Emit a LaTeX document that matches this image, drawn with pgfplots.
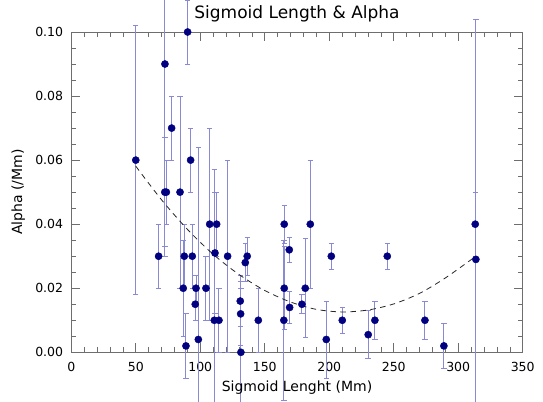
\documentclass[border=0pt]{standalone}
\usepackage{pgfplots}
\pgfplotsset{compat=1.18}
\usepackage{pgfplotstable}
\usepackage{fontspec}
\setmainfont{DejaVu Sans}
\definecolor{navy}{RGB}{0,0,128}
\definecolor{errc}{RGB}{138,138,212}
\definecolor{axc}{RGB}{110,110,110}
\pgfplotstableread{
x y e
50 0.060 0.042
67.7 0.030 0.010
72.6 0.090 0.060
72.5 0.050 0.017
73.7 0.050 0.010
77.8 0.070 0.010
84.3 0.050 0.030
86.8 0.020 0.015
87.6 0.030 0.010
88.9 0.002 0.010
90.2 0.100 0.010
92.5 0.060 0.010
93.8 0.030 0.010
96.1 0.015 0.005
96.7 0.020 0.004
98.5 0.004 0.060
104.4 0.020 0.010
107.3 0.040 0.030
110.9 0.010 0.047
111.4 0.031 0.019
112.7 0.040 0.010
114.5 0.010 0.010
121.2 0.030 0.030
131.0 0.016 0.008
131.3 0.012 0.010
131.5 0.000 0.020
134.9 0.028 0.006
136.4 0.030 0.006
145.0 0.010 0.010
164.8 0.010 0.025
165.1 0.020 0.013
165.1 0.040 0.006
169.0 0.032 0.004
169.3 0.014 0.005
178.8 0.015 0.003
181.4 0.020 0.0155
185.3 0.040 0.020
197.7 0.004 0.012
201.6 0.030 0.004
210.1 0.010 0.004
230.2 0.0055 0.0075
235.4 0.010 0.006
245.0 0.030 0.004
274.2 0.010 0.006
288.9 0.002 0.007
313.2 0.040 0.010
313.7 0.029 0.075
}\datatable
\pgfplotstableread{
x y
50 0.0581
70 0.0476
90 0.0384
110 0.0306
130 0.0243
150 0.0193
170 0.0157
190 0.0134
210 0.0126
230 0.0132
250 0.0151
270 0.0184
290 0.0232
313 0.0298
}\fittable
\begin{document}
\begin{tikzpicture}
\begin{axis}[
  name=ax,
  scale only axis,
  width=451.4bp, height=320.3bp,
  xmin=0, xmax=350, ymin=0, ymax=0.1,
  clip=false,
  xtick={0,50,100,150,200,250,300,350},
  ytick={0,0.02,0.04,0.06,0.08,0.1},
  minor x tick num=4,
  minor y tick num=3,
  major tick length=9bp,
  minor tick length=5bp,
  axis line style={axc, line width=0.7bp},
  every tick/.style={axc, line width=0.6bp},
  scaled y ticks=false,
  yticklabel style={/pgf/number format/.cd, fixed, fixed zerofill, precision=2, /tikz/.cd},
  /pgf/number format/assume math mode=true,
  ticklabel style={font=\fontsize{12.5bp}{14bp}\selectfont, text=black},
  xticklabel style={inner sep=0pt, yshift=-9.4bp, anchor=north},
  yticklabel style={inner sep=0pt, xshift=-8bp, anchor=east},
  title={Sigmoid Length \& Alpha},
  title style={at={(axis description cs:0.5,1)}, anchor=base, inner sep=0pt, yshift=8bp, font=\fontsize{17bp}{19bp}\selectfont},
  xlabel={Sigmoid Lenght (Mm)},
  xlabel style={at={(axis description cs:0.5,0)}, anchor=north, inner sep=0pt, yshift=-28.5bp, font=\fontsize{14bp}{16bp}\selectfont},
  ylabel={Alpha (/Mm)},
  ylabel style={at={(axis description cs:-0.1174,0.5)}, anchor=center, inner sep=0pt, font=\fontsize{14bp}{16bp}\selectfont},
]
\addplot[only marks, mark=none,
  error bars/.cd, y dir=both, y explicit,
  error bar style={draw=errc, line width=1bp},
  error mark options={draw=errc, line width=0.8bp, mark size=2.7bp, rotate=90}]
  table[x=x, y=y, y error=e]{\datatable};
\addplot[only marks, mark=*, mark size=3.6bp, mark options={fill=navy, draw=navy}]
  table[x=x, y=y]{\datatable};
\addplot[black!85, line width=0.8bp, dash pattern=on 5.5bp off 4.5bp, smooth, mark=none]
  table[x=x, y=y]{\fittable};
\end{axis}
\pgfresetboundingbox
\path[use as bounding box] ([xshift=-71.3bp,yshift=-49.7bp]ax.south west) rectangle ([xshift=20.3bp,yshift=32bp]ax.north east);
\end{tikzpicture}
\end{document}
